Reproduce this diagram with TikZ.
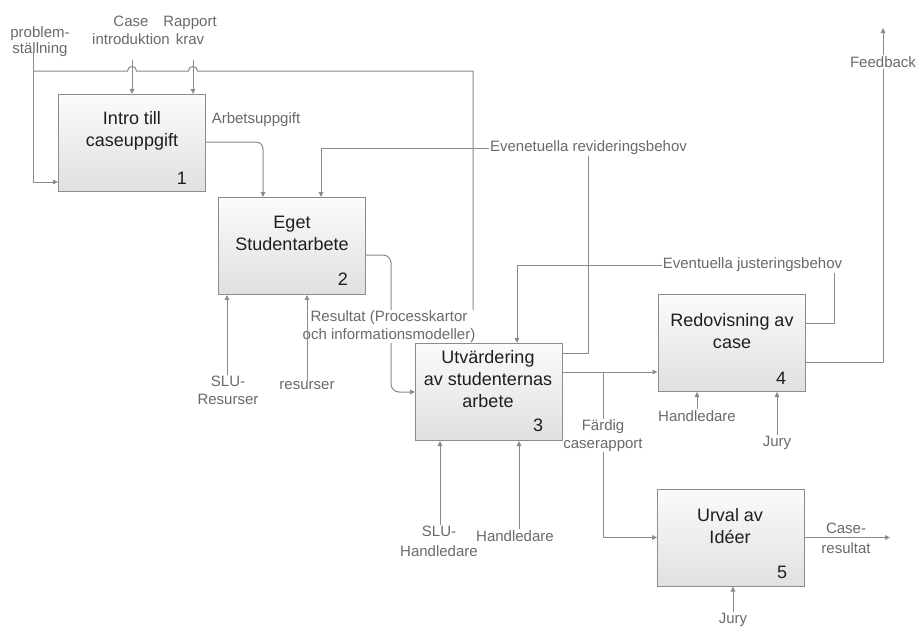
\documentclass[tikz,border=0pt]{standalone}
\usepackage{fontspec}
\setmainfont{Liberation Sans}
\usetikzlibrary{arrows.meta,calc}

\definecolor{linegray}{HTML}{8A8A8A}
\definecolor{labelgray}{HTML}{6A6A6A}
\definecolor{boxedge}{HTML}{8C8C8C}
\definecolor{boxtop}{HTML}{FBFBFB}
\definecolor{boxbottom}{HTML}{E0E0E0}
\definecolor{titletext}{HTML}{1E1E1E}

\begin{document}
\begin{tikzpicture}[x=1pt,y=-1pt,
  activity/.style={draw=boxedge, line width=1pt, top color=boxtop,
    bottom color=boxbottom, minimum width=147pt, minimum height=97pt,
    inner sep=0pt},
  boxtitle/.style={font=\fontsize{18}{22}\selectfont, text=titletext,
    align=center, inner sep=0pt},
  boxnum/.style={font=\fontsize{18}{22}\selectfont, text=titletext,
    inner sep=0pt},
  lbl/.style={font=\fontsize{15}{17.5}\selectfont, text=labelgray,
    align=center, inner sep=1pt},
  flow/.style={draw=linegray, line width=1pt},
  arr/.style={flow, -{Triangle[length=5pt,width=4.5pt]}}
]
\useasboundingbox[fill=white] (0,0) rectangle (920,630);

% activity boxes
\node[activity] (b1) at (132,143) {};
\node[activity] (b2) at (292,246) {};
\node[activity] (b3) at (489,392) {};
\node[activity] (b4) at (731.5,343) {};
\node[activity] (b5) at (731,537.5) {};

% box titles and numbers
\node[boxtitle] (t1) at (132,131) {Intro till\\caseuppgift};
\node[boxtitle] (t2) at (292,233) {Eget\\Studentarbete};
\node[boxtitle] (t3) at (488,379.5) {Utvärdering\\av studenternas\\arbete};
\node[boxtitle] (t4) at (732,331.5) {Redovisning av\\case};
\node[boxtitle] (t5) at (730,526) {Urval av\\Idéer};
\node[boxnum] (n1) at (182,178) {1};
\node[boxnum] (n2) at (343,279) {2};
\node[boxnum] (n3) at (538,425) {3};
\node[boxnum] (n4) at (781,378) {4};
\node[boxnum] (n5) at (782,572) {5};

% labels
\node[lbl, font=\fontsize{15}{16.5}\selectfont] (ps) at (40,41.5) {problem-\\ställning};
\node[lbl, font=\fontsize{15}{18}\selectfont] (ci) at (131,30.5) {Case\\introduktion};
\node[lbl, font=\fontsize{15}{18}\selectfont] (rk) at (190,30.5) {Rapport\\krav};
\node[lbl] (au) at (256,120) {Arbetsuppgift};
\node[lbl] (rv) at (588.5,148) {Evenetuella revideringsbehov};
\node[lbl] (ju) at (752.5,265) {Eventuella justeringsbehov};
\node[lbl] (fb) at (883,62) {Feedback};
\node[lbl] (slur) at (228,390.5) {SLU-\\Resurser};
\node[lbl] (res) at (307,386) {resurser};
\node[lbl] (h4) at (697,416) {Handledare};
\node[lbl] (j4) at (777,443) {Jury};
\node[lbl] (fc) at (603,435.5) {Färdig\\caserapport};
\node[lbl, font=\fontsize{15}{20}\selectfont] (sh) at (439,541.5) {SLU-\\Handledare};
\node[lbl] (h3) at (515,536) {Handledare};
\node[lbl] (j5) at (733,620) {Jury};
\node[lbl, font=\fontsize{15}{20}\selectfont] (cr) at (846,538) {Case-\\resultat};

% free ends and bends
\coordinate (ps1) at (33,53);
\coordinate (tl) at (33,71);
\coordinate (tr) at (473,71);
\coordinate (ci1) at (132,60);
\coordinate (rk1) at (193,60);
\coordinate (fbtip) at (883,28);
\coordinate (rx) at (391,300);
\coordinate (o3) at ([yshift=20pt]b3.east);
\coordinate (jn) at (603,0 |- o3);
\coordinate (crend) at (890,0 |- b5.east);

% inputs from the top left
\draw[arr] (ps1) |- ([yshift=-39pt]b1.west);
\draw[arr] (tl) -- (127.5,71) .. controls (127.5,65) and (136.5,65) .. (136.5,71)
  -- (188.5,71) .. controls (188.5,65) and (197.5,65) .. (197.5,71)
  -- (tr) -- (tr |- b3.north);
\draw[arr] (ci1) -- (ci1 |- b1.north);
\draw[arr] (rk1) -- (rk1 |- b1.north);

% box 1 to box 2
\draw[arr, rounded corners=7pt] ([yshift=1pt]b1.east) -| ([xshift=-29pt]b2.north);

% revision loop from box 3 back to box 2
\draw[flow] ([yshift=39pt]b3.east) -| (rv.south);
\draw[arr] (rv.west) -| ([xshift=29pt]b2.north);

% adjustment loop from box 4 back to box 3
\draw[flow] ([yshift=20pt]b4.east) -| ([xshift=81.5pt]ju.south);
\draw[arr] (ju.west) -| ([xshift=28pt]b3.north);

% feedback out of box 4
\draw[flow] ([yshift=-19pt]b4.east) -| (fb.south);
\draw[arr] (fb.north) -- (fbtip);

% box 2 to box 3
\draw[arr, rounded corners=8pt] ([yshift=-9pt]b2.east) -| (rx) |- (b3.west);
\node[lbl, fill=white, inner sep=0.5pt] (rl) at (389,326.5) {Resultat (Processkartor\\och informationsmodeller)};

% mechanisms under box 2
\draw[arr] ([xshift=-1pt]slur.north) -- ([xshift=-1pt]slur.north |- b2.south);
\draw[arr] (res.north) -- (res.north |- b2.south);

% box 3 to boxes 4 and 5
\draw[arr] (o3) -- (o3 -| b4.west);
\draw[flow] (jn) -- (fc.north);
\draw[arr] (fc.south) |- (b5.west);

% mechanisms under box 3
\draw[arr] ([xshift=1pt]sh.north) -- ([xshift=1pt]sh.north |- b3.south);
\draw[arr] ([xshift=4pt]h3.north) -- ([xshift=4pt]h3.north |- b3.south);

% mechanisms under box 4
\draw[arr] (h4.north) -- (h4.north |- b4.south);
\draw[arr] (j4.north) -- (j4.north |- b4.south);

% box 5
\draw[arr] (j5.north) -- (j5.north |- b5.south);
\draw[arr] (b5.east) -- (crend);
\end{tikzpicture}
\end{document}
